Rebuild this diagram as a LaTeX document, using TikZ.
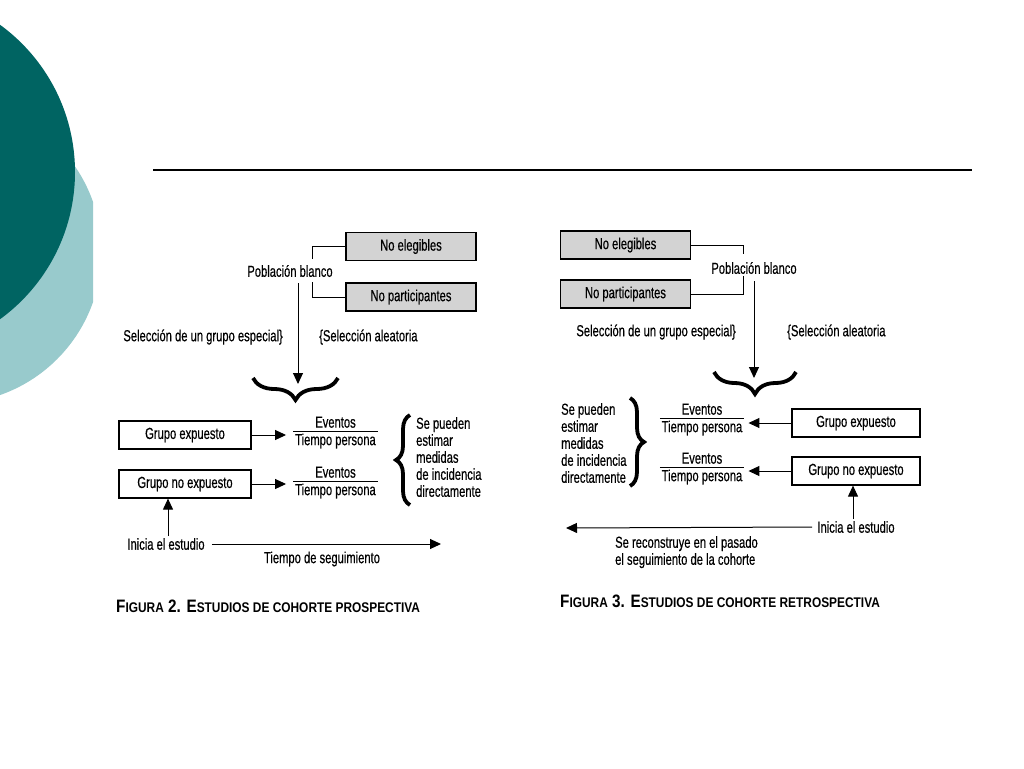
\documentclass[tikz,border=0pt]{standalone}
\usepackage{fontspec}
\setmainfont[FakeStretch=0.7,FakeBold=0.4]{Liberation Sans}
\newfontfamily\capfont[FakeStretch=0.85]{Liberation Sans}
\usetikzlibrary{arrows.meta,decorations.pathreplacing}
\definecolor{darkteal}{RGB}{0,100,98}
\definecolor{lightteal}{RGB}{152,202,204}
\definecolor{boxgray}{RGB}{211,211,211}
\newcommand{\frc}{\begin{tabular}{@{\hspace{2pt}}c@{\hspace{2pt}}}Eventos\\[-2pt]\hline\rule{0pt}{14pt}Tiempo persona\end{tabular}}
\newcommand{\smc}[1]{{\fontsize{14}{14}\selectfont #1}}
\begin{document}
\begin{tikzpicture}[x=1pt,y=-1pt,
  every node/.style={font=\fontsize{16}{17}\selectfont, inner sep=1pt},
  graybox/.style={draw, line width=1.2pt, fill=boxgray, minimum width=130pt, minimum height=28pt, inner sep=0pt},
  whitebox/.style={draw, line width=1.2pt, fill=white, minimum width=132pt, minimum height=28pt, inner sep=0pt},
  conn/.style={line width=1pt},
  arr/.style={line width=1pt, -{Triangle[length=11pt,width=10pt]}},
  bigbrace/.style={decorate, decoration={brace, amplitude=#1}, line width=3.8pt},
  capt/.style={anchor=west, font=\capfont\fontsize{18}{18}\selectfont\bfseries},
  fr/.style={inner sep=0pt}
]
\useasboundingbox (0,0) rectangle (1024,768);
\clip (0,0) rectangle (1024,768);
% decoration
\begin{scope}
\clip (-10,0) rectangle (93,768);
\fill[lightteal] (-50,252) circle (151.5);
\end{scope}
\fill[darkteal] (-107,172) circle (182);
\draw[line width=1.6pt] (153,170) -- (972,170);

% ===== Left figure =====
\node[graybox] (ne1) at (411,246.5) {No elegibles};
\node[graybox] (np1) at (411,297) {No participantes};
\node (pb1) at (290,271) {Población blanco};
\draw[conn] (ne1.west) -- ++(-33,0) -- ++(0,12);
\draw[conn] (np1.west) -- ++(-33,0) -- ++(0,-15);
\coordinate (v1) at (298,283);
\coordinate (v1e) at (298,384);
\draw[arr] (v1) -- (v1e);
\node[anchor=east] (sg1) at (284,337) {Selección de un grupo especial\}};
\node[anchor=west] (sa1) at (318,337) {\{Selección aleatoria};
\draw[bigbrace=22pt] (338,378) -- (253,378);

\node[whitebox] (ge1) at (185,435) {Grupo expuesto};
\node[whitebox] (gn1) at (185,484) {Grupo no expuesto};
\node[fr] (fr1) at (335.5,433) {\frc};
\node[fr] (fr2) at (335.5,483) {\frc};
\draw[arr] (ge1.east) -- ([xshift=-7pt]fr1.west |- ge1.east);
\draw[arr] (gn1.east) -- ([xshift=-7pt]fr2.west |- gn1.east);
\draw[bigbrace=14pt] (410,505) -- (410,415);
\node[anchor=north west, align=left] (tx1) at (415,416) {Se pueden\\estimar\\medidas\\de incidencia\\directamente};

\node (ie1) at (166,544) {Inicia el estudio};
\coordinate (u1) at (168,536);
\draw[arr] (u1) -- (gn1.south -| u1);
\coordinate (t1) at (441,544);
\draw[arr] ([xshift=6pt]ie1.east) -- (t1);
\node (ts1) at (322,559) {Tiempo de seguimiento};
\node[capt] (cap1) at (115,606) {F\smc{IGURA} 2. E\smc{STUDIOS DE COHORTE PROSPECTIVA}};

% ===== Right figure =====
\node[graybox] (ne2) at (625.5,245) {No elegibles};
\node[graybox] (np2) at (625.5,294) {No participantes};
\node (pb2) at (754,268) {Población blanco};
\draw[conn] (ne2.east) -- ++(52,0) -- ++(0,9);
\draw[conn] (np2.east) -- ++(52,0) -- ++(0,-18);
\coordinate (v2) at (754,281);
\coordinate (v2e) at (754,378);
\draw[arr] (v2) -- (v2e);
\node[anchor=east] (sg2) at (737,332) {Selección de un grupo especial\}};
\node[anchor=west] (sa2) at (786,332) {\{Selección aleatoria};
\draw[bigbrace=22pt] (796,372) -- (714,372);

\node[whitebox, minimum width=128pt] (ge2) at (856,423) {Grupo expuesto};
\node[whitebox, minimum width=128pt] (gn2) at (856,471) {Grupo no expuesto};
\node[fr] (fr3) at (702,420) {\frc};
\node[fr] (fr4) at (702,469) {\frc};
\draw[arr] (ge2.west) -- ([xshift=4pt]fr3.east |- ge2.west);
\draw[arr] (gn2.west) -- ([xshift=4pt]fr4.east |- gn2.west);
\draw[bigbrace=14pt] (630,398) -- (630,486);
\node[anchor=north west, align=left] (tx2) at (560,402) {Se pueden\\estimar\\medidas\\de incidencia\\directamente};

\node (ie2) at (856,527) {Inicia el estudio};
\coordinate (u2) at (853,519);
\draw[arr] (u2) -- (gn2.south -| u2);
\coordinate (t2) at (566,528);
\draw[arr] ([xshift=-4pt]ie2.west) -- (t2);
\node[anchor=north west, align=left] (sr2) at (614,535) {Se reconstruye en el pasado\\el seguimiento de la cohorte};
\node[capt] (cap2) at (559,601) {F\smc{IGURA} 3. E\smc{STUDIOS DE COHORTE RETROSPECTIVA}};
\end{tikzpicture}
\end{document}
